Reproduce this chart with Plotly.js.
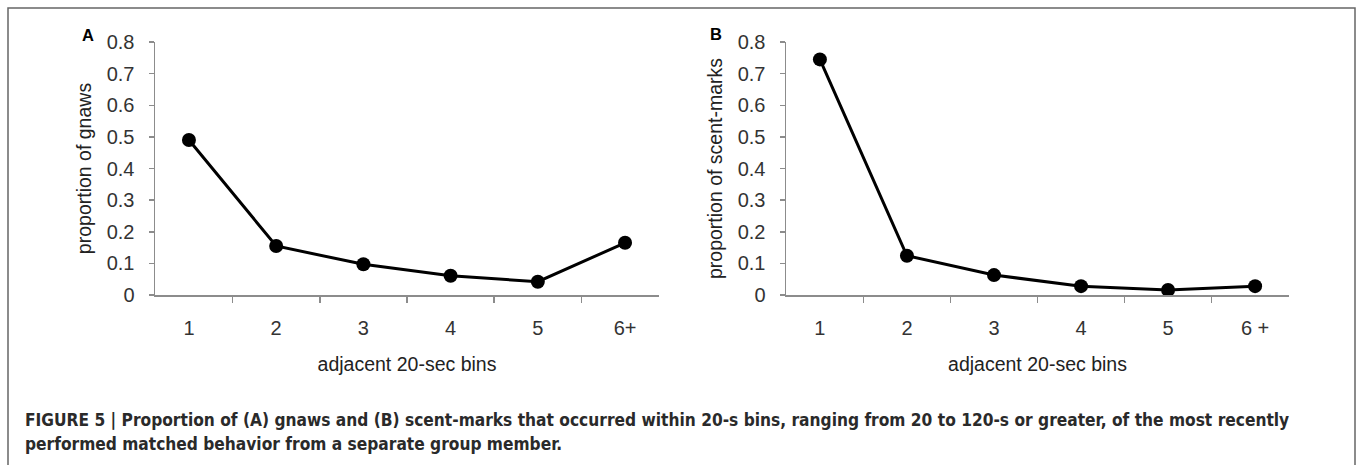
<!DOCTYPE html>
<html>
<head>
<meta charset="utf-8">
<script src="https://cdn.plot.ly/plotly-3.0.1.min.js"></script>
<style>html,body{margin:0;padding:0;background:#fff;}#chart{width:1357px;height:465px;}</style>
</head>
<body>
<div id="chart"></div>
<script>
const bins = ['1', '2', '3', '4', '5', '6+'];
const binsB = ['1', '2', '3', '4', '5', '6 +'];
const gnaws = [0.49, 0.155, 0.097, 0.061, 0.042, 0.165];
const scentMarks = [0.745, 0.124, 0.063, 0.028, 0.016, 0.028];
const xTitle = 'adjacent 20-sec bins';
const yTitleA = 'proportion of gnaws';
const yTitleB = 'proportion of scent-marks';
const yTicks = [0, 0.1, 0.2, 0.3, 0.4, 0.5, 0.6, 0.7, 0.8];
const caption1 = 'FIGURE 5 | Proportion of (A) gnaws and (B) scent-marks that occurred within 20-s bins, ranging from 20 to 120-s or greater, of the most recently';
const caption2 = 'performed matched behavior from a separate group member.';

const W = 1357, H = 465;
const px = v => v / W;
const py = v => 1 - v / H;

const lineStyle = {color: '#000', width: 3};
const markerStyle = {color: '#000', size: 14, symbol: 'circle'};

const traces = [
  {x: bins, y: gnaws, type: 'scatter', mode: 'lines+markers', line: lineStyle, marker: markerStyle, xaxis: 'x', yaxis: 'y', hoverinfo: 'x+y'},
  {x: binsB, y: scentMarks, type: 'scatter', mode: 'lines+markers', line: lineStyle, marker: markerStyle, xaxis: 'x2', yaxis: 'y2', hoverinfo: 'x+y'}
];

const tickFont = {family: 'Liberation Sans, Arial, sans-serif', size: 20, color: '#333'};
const titleFont = {family: 'Liberation Sans, Arial, sans-serif', size: 19.5, color: '#222'};

function xAxis(d0, d1, anchor) {
  return {
    domain: [px(d0), px(d1)], anchor: anchor, type: 'category',
    showline: true, linecolor: '#8c8c8c', linewidth: 1.5,
    ticks: 'outside', tickson: 'boundaries', ticklen: 6, tickwidth: 1.5, tickcolor: '#8c8c8c',
    showgrid: false, zeroline: false, tickfont: tickFont, ticklabelstandoff: 14,
    title: {text: xTitle, font: titleFont, standoff: 20}, fixedrange: true
  };
}
function yAxis(title, anchor) {
  return {
    domain: [py(295), py(42)], anchor: anchor, range: [0, 0.8],
    tickvals: yTicks, showline: true, linecolor: '#8c8c8c', linewidth: 1.5,
    ticks: 'outside', ticklen: 5, tickwidth: 1.5, tickcolor: '#8c8c8c',
    showgrid: false, zeroline: false, tickfont: tickFont, ticklabelstandoff: 10,
    title: {text: title, font: titleFont, standoff: 10}, fixedrange: true
  };
}

const captionFont = {family: 'DejaVu Sans Condensed, Liberation Sans Narrow, sans-serif', size: 17.2, color: '#2a2a2a', weight: 'bold'};

const layout = {
  width: W, height: H,
  margin: {l: 0, r: 0, t: 0, b: 0},
  paper_bgcolor: '#fff', plot_bgcolor: '#fff',
  showlegend: false,
  xaxis: xAxis(155, 659, 'y'),
  yaxis: yAxis(yTitleA, 'x'),
  xaxis2: xAxis(786, 1289, 'y2'),
  yaxis2: yAxis(yTitleB, 'x2'),
  shapes: [
    {type: 'rect', xref: 'paper', yref: 'paper', x0: px(8), x1: px(1355), y0: -0.1, y1: py(8),
     line: {color: '#666', width: 1.5}, fillcolor: 'rgba(0,0,0,0)', layer: 'below'}
  ],
  annotations: [
    {text: '<b>A</b>', xref: 'paper', yref: 'paper', x: px(88), y: py(35), xanchor: 'center', yanchor: 'middle', showarrow: false,
     font: {family: 'Liberation Sans, Arial, sans-serif', size: 16.5, color: '#000'}},
    {text: '<b>B</b>', xref: 'paper', yref: 'paper', x: px(716), y: py(34), xanchor: 'center', yanchor: 'middle', showarrow: false,
     font: {family: 'Liberation Sans, Arial, sans-serif', size: 16.5, color: '#000'}},
    {text: caption1, xref: 'paper', yref: 'paper', x: px(23), y: py(420), xanchor: 'left', yanchor: 'middle', showarrow: false, font: captionFont},
    {text: caption2, xref: 'paper', yref: 'paper', x: px(23), y: py(444), xanchor: 'left', yanchor: 'middle', showarrow: false, font: captionFont}
  ]
};

Plotly.newPlot('chart', traces, layout, {displayModeBar: false, staticPlot: true});
</script>
</body>
</html>
